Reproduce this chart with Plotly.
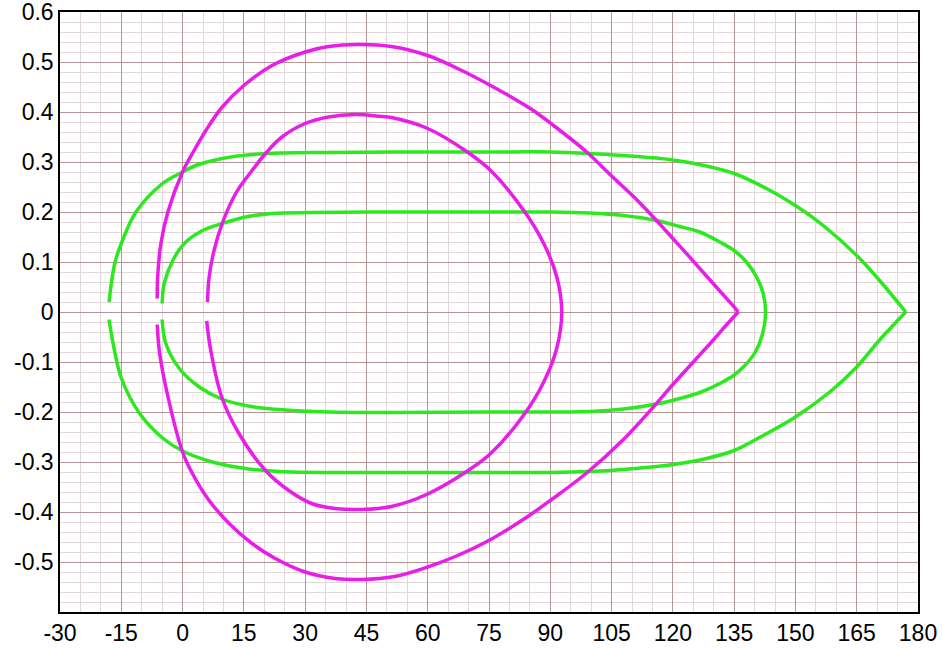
import plotly.graph_objects as go

# ---- data ----
# outer green loop: upper branch (left end -> right tip), lower branch (right tip -> left end)
outer_green_upper_x = [-18.0, -16.6, -15, -11.4, -4.9, 0, 3.2, 9.7, 17, 24.3, 35.7, 51.9, 75, 90, 99.7, 107.9,
                       116, 121.7, 128.2, 135, 142.9, 150, 156.8, 165, 170.6, 177]
outer_green_upper_y = [0.02, 0.097, 0.137, 0.2, 0.257, 0.28, 0.293, 0.307, 0.315, 0.318, 0.319, 0.32, 0.32, 0.32,
                       0.317, 0.313, 0.308, 0.302, 0.292, 0.277, 0.247, 0.213, 0.173, 0.113, 0.063, 0.0]
outer_green_lower_x = [177, 170.6, 165, 158.4, 150, 142.1, 135, 128.2, 121.7, 116, 107.9, 99.7, 90, 75, 51.9,
                       35.7, 23.5, 15.4, 7.3, 0, -4.9, -10.5, -15, -17, -18.0]
outer_green_lower_y = [0.0, -0.056, -0.11, -0.16, -0.21, -0.247, -0.277, -0.293, -0.303, -0.309, -0.315, -0.319,
                       -0.321, -0.321, -0.321, -0.321, -0.319, -0.313, -0.3, -0.278, -0.252, -0.203, -0.132,
                       -0.063, -0.015]

inner_green_x = [-5, -4.5, -2.4, 0.4, 4.9, 9.7, 15.4, 21.9, 31.6, 51.9, 75, 90, 99.7, 107.9, 116, 121.7, 126.6,
                 131.5, 135, 138, 140.5, 142.1, 142.7,
                 141.9, 140.2, 137.5, 135, 131.5, 126.6, 121.7, 116, 107.9, 99.7, 90, 75, 51.9, 35.7, 23.5,
                 15.4, 9.3, 4.1, -0.8, -4.1, -5]
inner_green_y = [0.017, 0.057, 0.103, 0.137, 0.163, 0.177, 0.19, 0.197, 0.199, 0.2, 0.2, 0.2, 0.198, 0.193,
                 0.183, 0.171, 0.16, 0.14, 0.123, 0.1, 0.07, 0.037, 0.0,
                 -0.045, -0.08, -0.108, -0.126, -0.143, -0.161, -0.173, -0.184, -0.194, -0.199, -0.2, -0.2,
                 -0.201, -0.2, -0.195, -0.187, -0.173, -0.15, -0.113, -0.063, -0.015]

outer_magenta_upper_x = [-6.2, -6.1, -5.3, -3.6, 0, 2.4, 5.7, 9.7, 15, 21.9, 30, 35.7, 43, 51.1, 60, 67.3, 75.4,
                         85.1, 90.8, 98.9, 105, 111.1, 116, 120, 124.1, 128, 131.5, 134.8, 136]
outer_magenta_upper_y = [0.027, 0.07, 0.137, 0.2, 0.28, 0.317, 0.363, 0.41, 0.453, 0.493, 0.52, 0.531, 0.535,
                         0.531, 0.513, 0.487, 0.453, 0.407, 0.373, 0.32, 0.272, 0.225, 0.183, 0.147, 0.11,
                         0.074, 0.042, 0.012, 0.0]
outer_magenta_lower_x = [136, 133.1, 129.9, 125, 120, 116, 107.9, 98.9, 90, 84.3, 75.4, 67.3, 60, 51.9, 43.8,
                         37.3, 30, 22.7, 17, 11.4, 6.5, 2.4, 0, -4.1, -5.7, -6.2]
outer_magenta_lower_y = [0.0, -0.026, -0.056, -0.1, -0.145, -0.183, -0.255, -0.322, -0.377, -0.41, -0.455,
                         -0.487, -0.51, -0.529, -0.535, -0.533, -0.52, -0.493, -0.463, -0.423, -0.377, -0.323,
                         -0.28, -0.15, -0.077, -0.025]

inner_magenta_x = [6.1, 6.5, 7.7, 9.7, 13, 17, 20.3, 24.3, 30, 35.7, 42.2, 48.7, 51.1, 60, 69.7, 75.4, 83.5,
                   88.4, 91.6, 92.8,
                   91.6, 88.4, 83.5, 75.4, 69.7, 60, 51.1, 43.8, 37.3, 31.6, 26, 20.3, 13.8, 9.7, 6.9, 5.9]
inner_magenta_y = [0.02, 0.07, 0.123, 0.177, 0.237, 0.283, 0.317, 0.35, 0.377, 0.39, 0.395, 0.391, 0.389,
                   0.367, 0.32, 0.283, 0.203, 0.137, 0.07, 0.0,
                   -0.072, -0.14, -0.206, -0.283, -0.318, -0.364, -0.389, -0.395, -0.393, -0.383, -0.357,
                   -0.317, -0.243, -0.173, -0.077, -0.018]

x_ticks = [-30, -15, 0, 15, 30, 45, 60, 75, 90, 105, 120, 135, 150, 165, 180]
x_tick_text = ["-30", "-15", "0", "15", "30", "45", "60", "75", "90", "105", "120", "135", "150", "165", "180"]
y_ticks = [-0.5, -0.4, -0.3, -0.2, -0.1, 0, 0.1, 0.2, 0.3, 0.4, 0.5, 0.6]
y_tick_text = ["-0.5", "-0.4", "-0.3", "-0.2", "-0.1", "0", "0.1", "0.2", "0.3", "0.4", "0.5", "0.6"]

GREEN = "#2ce81e"
MAGENTA = "#e81ee8"

fig = go.Figure()
for xs, ys, col in [(outer_green_upper_x, outer_green_upper_y, GREEN),
                    (outer_green_lower_x, outer_green_lower_y, GREEN),
                    (inner_green_x, inner_green_y, GREEN),
                    (outer_magenta_upper_x, outer_magenta_upper_y, MAGENTA),
                    (outer_magenta_lower_x, outer_magenta_lower_y, MAGENTA),
                    (inner_magenta_x, inner_magenta_y, MAGENTA)]:
    fig.add_trace(go.Scatter(x=xs, y=ys, mode="lines",
                             line=dict(color=col, width=3.5, shape="spline", smoothing=1.0),
                             showlegend=False, hoverinfo="skip"))

MAJOR = "#b49494"
MINOR = "#e2d6da"
fig.update_layout(
    width=943, height=649,
    margin=dict(l=60, r=25, t=12, b=37),
    paper_bgcolor="white", plot_bgcolor="white",
    font=dict(family="Liberation Sans, Arial, sans-serif", size=23, color="black"),
    xaxis=dict(range=[-30, 180], tickvals=x_ticks, ticktext=x_tick_text, automargin=False,
               ticklabeloverflow="allow",
               showgrid=True, gridcolor=MAJOR, gridwidth=1, zeroline=False,
               showline=True, linecolor="black", linewidth=1.5, mirror=True, ticks="",
               minor=dict(dtick=5, tick0=0, showgrid=True, gridcolor=MINOR, gridwidth=1)),
    yaxis=dict(range=[-0.6, 0.6], tickvals=y_ticks, ticktext=y_tick_text, automargin=False,
               ticklabeloverflow="allow",
               showgrid=True, gridcolor=MAJOR, gridwidth=1, zeroline=False,
               showline=True, linecolor="black", linewidth=1.5, mirror=True, ticks="",
               minor=dict(dtick=0.02, tick0=0, showgrid=True, gridcolor=MINOR, gridwidth=1)),
)

fig.write_html("out.html")
